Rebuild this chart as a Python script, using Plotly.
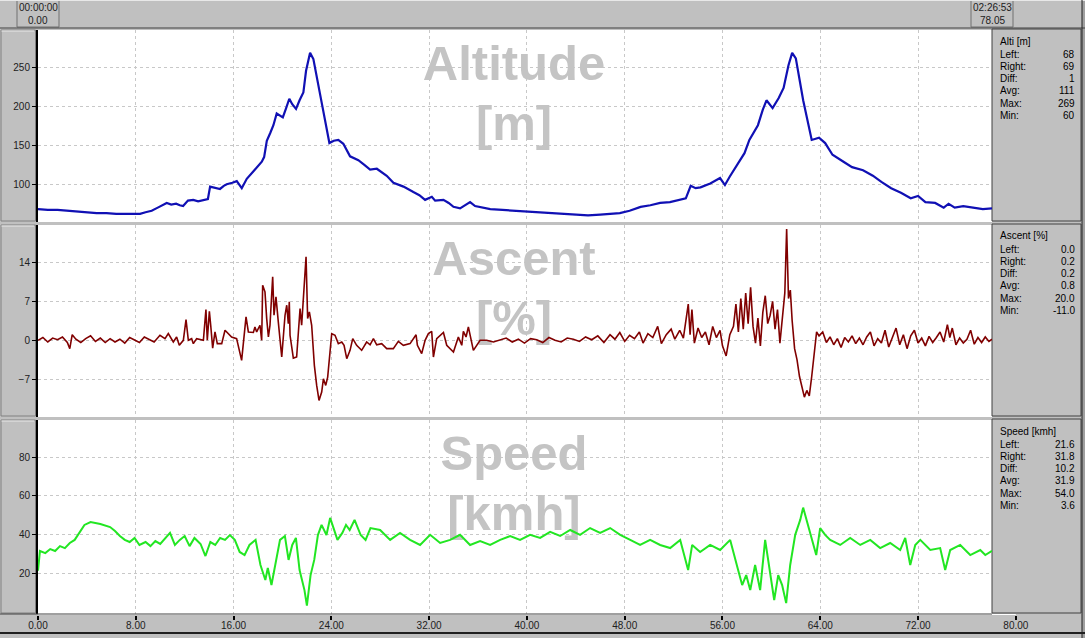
import plotly.graph_objects as go

W, H = 1085, 638

# ---------------- data ----------------
alt_km = [0.0, 0.8, 1.6, 2.4, 3.2, 4.0, 4.8, 5.6, 6.4, 7.2, 8.0, 8.35, 8.8, 9.3, 9.8, 10.2, 10.53, 10.9, 11.3, 11.6,
          11.87, 12.27, 12.7, 13.1, 13.5, 13.9, 14.08, 14.5, 14.89, 15.2, 15.44, 15.9, 16.26, 16.67, 17.08, 17.7,
          18.31, 18.5, 18.72, 19.0, 19.26, 19.53, 20.03, 20.3, 20.56, 20.8, 21.11, 21.4, 21.71, 21.93, 22.26, 22.53,
          22.9, 23.22, 23.84, 24.2, 24.57, 24.98, 25.53, 26.21, 26.7, 27.17, 27.72, 28.1, 28.53, 29.08, 29.9, 30.71,
          31.2, 31.67, 32.22, 32.49, 33.17, 33.6, 33.99, 34.53, 35.0, 35.35, 35.76, 36.17, 37.0, 38.0, 39.0, 40.0,
          41.0, 42.0, 43.0, 44.0, 45.0, 46.0, 46.8, 47.6, 48.4, 49.3, 50.1, 50.9, 51.7, 52.5, 53.0, 53.4, 53.8, 54.2,
          55.0, 55.8, 56.2, 56.6, 57.0, 57.4, 57.8, 58.2, 58.9, 59.3, 59.6, 60.1, 60.6, 61.0, 61.4, 61.7, 62.0, 62.3,
          62.6, 63.3, 63.9, 64.4, 65.0, 65.9, 66.6, 67.5, 68.3, 69.0, 69.8, 70.6, 71.4, 72.0, 72.6, 73.4, 74.1, 74.5,
          75.0, 75.7, 76.5, 77.3, 78.05]
alt_m = [68, 67, 67, 66, 65, 64, 63, 63, 62, 62, 62, 62, 64, 66, 70, 73, 76, 74, 75, 73,
         72, 79, 80, 78, 80, 81, 97, 95, 94, 98, 100, 102, 104, 95, 107, 118,
         129, 135, 156, 166, 176, 191, 186, 198, 210, 203, 197, 208, 218, 246, 269, 261,
         232, 204, 153, 156, 157, 152, 136, 131, 125, 119, 120, 116, 111, 102, 97, 90,
         86, 80, 84, 79, 80, 76, 71, 69, 73, 77, 72, 71, 68, 67, 66, 65,
         64, 63, 62, 61, 60, 61, 62, 63, 66, 71, 73, 76, 77, 80, 82, 98, 95, 96,
         101, 108, 99, 110, 120, 131, 140, 157, 176, 196, 208, 198, 211, 224, 253, 269, 262, 235,
         208, 157, 160, 153, 138, 129, 122, 118, 111, 103, 95, 89, 82, 85, 77, 76, 70, 75,
         70, 72, 70, 68, 69]

asc_km = [0.0, 0.4, 0.8, 1.2, 1.6, 2.0, 2.4, 2.6, 2.8, 3.1, 3.5, 3.9, 4.3, 4.7, 5.1, 5.5, 5.9, 6.3, 6.7, 7.1,
          7.5, 7.9, 8.3, 8.7, 9.1, 9.5,
          9.98, 10.39, 10.66, 11.07, 11.34, 11.56, 11.89, 12.11, 12.30, 12.57, 12.71, 12.98, 13.53, 13.74, 13.85,
          14.02, 14.13, 14.29, 14.48, 14.67, 15.03, 15.30, 15.84, 16.25, 16.66, 17.02, 17.21, 17.62, 17.75, 17.89,
          18.16, 18.30, 18.38, 18.57, 18.71, 18.85, 18.98, 19.20, 19.31, 19.47, 19.66, 19.94, 20.21, 20.35, 20.48,
          20.56, 20.62, 20.89, 21.16, 21.30, 21.44, 21.57, 21.76, 21.93, 22.06, 22.20, 22.39, 22.61, 22.80, 22.99,
          23.21, 23.35, 23.54, 23.70, 23.89, 24.03, 24.30, 24.57, 24.85, 25.04, 25.26, 25.53, 25.75, 26.07, 26.48,
          26.89, 27.17, 27.44, 27.71, 28.12, 28.53, 29.07, 29.48, 29.89, 30.44, 30.93, 31.04, 31.39, 31.67, 31.94,
          32.21, 32.35, 32.62, 33.17, 33.44, 33.99, 34.39, 34.67, 34.80, 35.02, 35.21, 35.48, 35.62, 36.17, 36.71,
          37.26, 37.80,
          38.3, 38.8, 39.3, 39.8, 40.3, 40.8, 41.3, 41.8, 42.3, 42.8, 43.3, 43.8, 44.3, 44.8, 45.3, 45.8, 46.3,
          46.8, 47.2, 47.6, 48.0, 48.4, 48.8, 49.2, 49.5, 49.9, 50.3, 50.7, 51.0, 51.4, 51.8, 52.1, 52.5, 52.8,
          53.0, 53.2, 53.35, 53.5, 53.7, 54.0, 54.3, 54.6, 54.9, 55.2, 55.5, 55.8, 56.0, 56.3, 56.6, 56.9, 57.1,
          57.3, 57.5, 57.7, 57.9, 58.1, 58.3, 58.5, 58.7, 58.9, 59.1, 59.3, 59.5, 59.7, 59.9, 60.1, 60.3, 60.5,
          60.7, 60.9, 61.1, 61.25, 61.4, 61.55, 61.7, 61.9, 62.1, 62.3, 62.5, 62.7, 62.9, 63.1, 63.3, 63.5, 63.7,
          63.9, 64.2, 64.5, 64.8, 65.1, 65.4, 65.7, 66.0, 66.3, 66.6, 66.9, 67.2, 67.5, 67.8, 68.1, 68.4, 68.7,
          69.0, 69.3, 69.6, 69.9, 70.2, 70.5, 70.8, 71.1, 71.4, 71.7, 72.0, 72.3, 72.6, 72.9, 73.2, 73.5, 73.8,
          74.1, 74.4, 74.6, 74.8, 75.1, 75.4, 75.7, 76.0, 76.3, 76.6, 76.9, 77.2, 77.5, 77.8, 78.05]
asc_pct = [0.0, 0.5, -0.3, 0.4, 0.1, 0.6, -0.4, -1.5, 1.0, 0.2, -0.4, 0.3, 0.8, -0.2, 0.4, -0.4, 0.3, -0.3, 0.2, -0.5,
           0.5, 0.1, -0.4, 0.6, 0.2, -0.3,
           0.9, 0.3, 1.2, -0.3, 0.6, -0.9, 0.0, 3.7, 0.0, 0.3, -0.6, 0.3, 0.0, 5.5, 0.0,
           5.2, 2.7, -1.4, 1.5, -0.6, -0.6, 1.8, 0.6, 0.3, -3.6, 4.2, 1.5, 1.4, 2.4, 1.5,
           2.7, 0.0, 9.9, 8.7, 3.9, 0.6, 2.7, 11.4, 4.5, 7.8, 3.3, -3.0, 4.5, 6.3, 3.0,
           6.9, 0.9, -3.2, -3.0, 1.5, 5.7, 2.7, 8.7, 15.0, 3.9, 5.1, 2.7, -4.5, -8.1, -10.8,
           -9.3, -6.9, -8.1, -6.6, -2.1, 1.2, 0.9, -0.6, -0.3, -0.9, -3.3, -1.8, 0.3, -0.9, -1.8,
           -0.3, -0.8, 0.3, -0.8, -0.6, -1.5, -1.5, -0.2, -0.9, -0.6, 1.0, -0.9, -2.4, 0.0, 1.2,
           1.6, -3.0, 0.3, 1.4, -0.9, -2.1, 0.6, -0.9, 1.6, 0.6, 2.4, 0.0, -1.8, 0.0, 0.0,
           -0.3, 0.0,
           0.4, -0.3, 0.2, -0.5, 0.3, 0.1, -0.4, 0.5, 0.0, -0.3, 0.4, 0.2, -0.2, 0.6, 0.1, 0.8, -0.4,
           1.0, 0.2, 1.4, -0.2, 0.9, 0.3, 1.5, -0.5, 1.2, 0.5, 2.5, -0.6, 1.0, 2.0, 0.2, 1.8, 0.4,
           3.5, 6.5, 1.0, 5.5, -0.5, 2.2, 0.5, 1.5, -0.8, 2.5, 0.5, 1.8, -1.0, -2.8, 1.0, 2.5, 6.5,
           1.5, 7.5, 2.0, 8.5, 3.0, 9.5, 2.5, -0.5, 4.0, -1.0, 5.0, 8.0, 3.0, 4.5, 7.0, 2.0, 5.5,
           -0.5, 4.0, 8.5, 20.0, 7.5, 9.0, 3.5, -1.5, -3.5, -6.5, -8.5, -10.2, -9.0, -10.0, -6.5, -2.5, 1.5,
           0.8, 1.5, -0.4, 0.6, -0.8, 0.3, -1.3, 0.5, -0.3, 0.8, -0.6, 0.4, -0.8, 0.6, 1.5, -1.0, 0.3,
           -0.5, 1.8, -1.2, 0.5, 2.2, -0.8, 1.0, -1.5, 0.8, 1.8, -0.5, 0.4, -1.0, 0.7, -0.4, 0.5, 1.5,
           -0.3, 2.8, 0.5, 2.2, -0.8, 0.4, -0.5, 0.2, 1.8, -0.7, 0.5, -0.4, 0.6, -0.2, 0.2]

spd_km = [0.0, 0.16, 0.6, 1.0, 1.4, 1.8, 2.2, 2.6, 3.0, 3.4, 3.8, 4.3, 4.7, 5.1, 5.9, 6.3, 6.7, 7.1, 7.5, 7.9,
          8.3, 8.8, 9.2, 9.6, 10.0, 10.4, 10.8, 11.2, 11.6, 12.0, 12.4, 12.8, 13.3, 13.7, 14.1, 14.5, 14.9, 15.3,
          15.7, 16.1, 16.5, 16.9, 17.3, 17.8, 18.2, 18.6, 18.8, 19.1, 19.5, 19.8, 20.2, 20.5, 20.8, 21.1, 21.4,
          21.8, 22.0, 22.3, 22.6, 22.9, 23.2, 23.6, 23.9, 24.2, 24.5, 24.9, 25.2, 25.5, 25.9, 26.4, 26.8, 27.2,
          27.99, 28.81, 29.62, 30.44, 31.26, 32.08, 32.90, 33.72, 34.53, 35.35, 36.17, 36.99, 37.81, 38.63, 39.44,
          40.26, 41.08, 41.90, 42.72, 43.54, 44.35, 45.17, 45.99, 46.81, 47.63, 48.45, 49.26, 50.08, 50.90, 51.72,
          52.54, 53.19, 53.52, 54.17, 54.99, 55.81, 56.63, 57.28, 57.61, 57.94, 58.27, 58.67, 59.08, 59.49, 59.90,
          60.23, 60.56, 60.88, 61.21, 61.54, 61.95, 62.36, 62.60, 63.01, 63.34, 63.67, 63.99, 64.40, 64.81, 65.63,
          66.45, 67.27, 68.09, 68.90, 69.72, 70.54, 70.95, 71.36, 71.77, 72.18, 73.00, 73.81, 74.22, 74.63, 75.45,
          76.27, 77.09, 77.50, 78.05]
spd_kmh = [21.6, 31.7, 30.6, 32.7, 31.7, 34.2, 33.2, 35.8, 37.4, 41.5, 45.1, 46.6, 46.1, 45.6, 44.0, 42.0, 39.4,
           37.4, 36.3, 38.4, 34.8, 36.3, 34.2, 36.8, 35.3, 38.4, 41.0, 34.8, 37.4, 39.4, 34.2, 38.4, 35.3, 29.1,
           36.3, 34.8, 38.4, 37.4, 39.9, 37.4, 31.2, 29.6, 34.8, 37.4, 24.5, 16.8, 23.0, 14.2, 27.1, 37.4, 39.4,
           27.1, 34.8, 38.4, 21.9, 11.6, 3.6, 19.3, 27.1, 39.9, 45.1, 39.9, 48.7, 43.5, 37.4, 41.0, 45.1, 42.5,
           47.7, 39.9, 37.4, 43.5,
           42.5, 37.4, 41.0, 37.4, 34.8, 40.0, 35.8, 37.4, 40.0, 34.8, 36.8, 34.8, 37.4, 39.4, 37.4,
           40.0, 38.4, 41.5, 39.4, 42.5, 40.0, 43.5, 41.0, 43.5, 40.0, 37.4, 34.8, 37.4, 34.8, 33.2,
           37.4, 21.9, 34.8, 31.2, 34.8, 32.2, 37.4, 21.9, 14.2, 19.3, 11.6, 24.5, 11.6, 37.4, 19.3,
           6.5, 19.3, 14.2, 4.9, 24.5, 40.0, 47.7, 54.0, 45.1, 37.4, 29.6, 43.5, 40.0, 37.4, 34.8,
           38.4, 34.8, 37.4, 33.2, 35.8, 32.2, 38.4, 24.5, 34.8, 37.4, 32.2, 33.2, 21.9, 32.2, 34.8,
           29.6, 32.2, 29.6, 31.8]

alt_ticks = [100, 150, 200, 250]
asc_ticks = [-7, 0, 7, 14]
spd_ticks = [20, 40, 60, 80]
ruler_ticks = [0, 8, 16, 24, 32, 40, 48, 56, 64, 72, 80]

stat_labels = ["Left:", "Right:", "Diff:", "Avg:", "Max:", "Min:"]
alt_stats = ["68", "69", "1", "111", "269", "60"]
asc_stats = ["0.0", "0.2", "0.2", "0.8", "20.0", "-11.0"]
spd_stats = ["21.6", "31.8", "10.2", "31.9", "54.0", "3.6"]
stat_titles = ["Alti [m]", "Ascent [%]", "Speed [kmh]"]
watermarks = [("Altitude", "[m]"), ("Ascent", "[%]"), ("Speed", "[kmh]")]
time_start = ("00:00:00", "0.00")
time_end = ("02:26:53", "78.05")

# ---------------- layout helpers ----------------
FONT = "Liberation Sans, Arial, sans-serif"
GRAY = "#c0c0c0"


def px(x):
    return x / W


def py(y):
    return 1 - y / H


X_MAX = 78.05
PLOT_L, PLOT_R = 38, 992
tops = [30, 225, 420]
bots = [222, 417, 614]
ranges = [[51.5, 298.4], [-13.77, 20.7], [-0.7, 99.05]]
colors = ["#1010b4", "#800000", "#22e622"]
widths = [2.2, 1.6, 2.0]
tickvals = [alt_ticks, asc_ticks, spd_ticks]
series = [(alt_km, alt_m), (asc_km, asc_pct), (spd_km, spd_kmh)]
stats = [alt_stats, asc_stats, spd_stats]
# watermark vertical centres (pixels below the panel top)
wm_off = (38, 98)

fig = go.Figure()
shapes = []
annotations = []

for i in range(3):
    n = "" if i == 0 else str(i + 1)
    lo, hi = ranges[i]
    ph = bots[i] - tops[i]
    # watermark text (drawn beneath the line)
    for word, off in zip(watermarks[i], wm_off):
        yv = hi - off / ph * (hi - lo)
        fig.add_trace(go.Scatter(
            x=[X_MAX * (514 - PLOT_L) / (PLOT_R - PLOT_L)], y=[yv], mode="text", text=[word],
            textfont=dict(size=49, color="#c4c4c4", family=FONT, weight="bold"),
            hoverinfo="skip", showlegend=False, xaxis="x" + n, yaxis="y" + n))
    xs, ys = series[i]
    fig.add_trace(go.Scatter(
        x=xs, y=ys, mode="lines", line=dict(color=colors[i], width=widths[i]),
        hoverinfo="skip", showlegend=False, xaxis="x" + n, yaxis="y" + n))

    fig.layout["xaxis" + n] = dict(
        domain=[px(PLOT_L), px(PLOT_R)], range=[0, X_MAX], anchor="y" + n,
        tick0=0, dtick=8, showticklabels=False, ticks="",
        showgrid=True, gridcolor="#c8c8c8", griddash="3px,3px", gridwidth=1,
        zeroline=False, showline=False, automargin=False, fixedrange=True)
    fig.layout["yaxis" + n] = dict(
        domain=[py(bots[i]), py(tops[i])], range=ranges[i], anchor="x" + n,
        tickvals=tickvals[i], ticks="outside", ticklen=4, tickcolor="#000", tickwidth=1,
        tickfont=dict(size=10, color="#202020", family=FONT),
        showgrid=True, gridcolor="#c8c8c8", griddash="3px,3px", gridwidth=1,
        zeroline=False, showline=True, linecolor="#000", linewidth=2,
        automargin=False, fixedrange=True)

    # left gray column box
    shapes.append(dict(type="rect", xref="paper", yref="paper",
                       x0=px(1), x1=px(35.5), y0=py(bots[i] - 1), y1=py(tops[i]),
                       line=dict(color="#808080", width=1), fillcolor=GRAY, layer="below"))
    shapes.append(dict(type="line", xref="paper", yref="paper",
                       x0=px(1.5), x1=px(34), y0=py(tops[i] + 1), y1=py(tops[i] + 1),
                       line=dict(color="#e8e8e8", width=1)))
    # right stats box
    shapes.append(dict(type="rect", xref="paper", yref="paper",
                       x0=px(992), x1=px(1081), y0=py(bots[i] - 1), y1=py(tops[i] - 1),
                       line=dict(color="#404040", width=1), fillcolor=GRAY, layer="below"))
    annotations.append(dict(xref="paper", yref="paper", x=px(998), y=py(tops[i] + 11),
                            xanchor="left", yanchor="middle", showarrow=False,
                            text=stat_titles[i], font=dict(size=10, color="#000", family=FONT)))
    for k, (lab, val) in enumerate(zip(stat_labels, stats[i])):
        yy = tops[i] + 24 + k * 12.3
        annotations.append(dict(xref="paper", yref="paper", x=px(998), y=py(yy),
                                xanchor="left", yanchor="middle", showarrow=False,
                                text=lab, font=dict(size=10, color="#000", family=FONT)))
        annotations.append(dict(xref="paper", yref="paper", x=px(1077), y=py(yy),
                                xanchor="right", yanchor="middle", showarrow=False,
                                text=val, font=dict(size=10, color="#000", family=FONT)))

# bottom ruler axis
fig.add_trace(go.Scatter(x=[0, 80], y=[0, 0], mode="markers", marker=dict(opacity=0),
                         hoverinfo="skip", showlegend=False, xaxis="x4", yaxis="y4"))
fig.layout["xaxis4"] = dict(
    domain=[px(PLOT_L), px(PLOT_L + 80 * (PLOT_R - PLOT_L) / X_MAX)], range=[0, 80], anchor="y4",
    tickvals=ruler_ticks, tickformat=".2f", ticks="outside", ticklen=4, tickcolor="#000", tickwidth=2,
    tickfont=dict(size=10, color="#202020", family=FONT), showgrid=False, zeroline=False,
    showline=False, automargin=False, fixedrange=True, ticklabelstandoff=-3)
fig.layout["yaxis4"] = dict(domain=[py(615), py(614)], range=[0, 1], visible=False, anchor="x4",
                            fixedrange=True)

# top bar and frame decorations
shapes += [
    dict(type="line", xref="paper", yref="paper", x0=0, x1=1, y0=py(0.5), y1=py(0.5),
         line=dict(color="#e8e8e8", width=1)),
    dict(type="line", xref="paper", yref="paper", x0=0, x1=1, y0=py(28), y1=py(28),
         line=dict(color="#404040", width=1)),
    dict(type="rect", xref="paper", yref="paper", x0=px(17), x1=px(59), y0=py(27), y1=py(0.5),
         line=dict(color="#707070", width=1), fillcolor=GRAY, layer="below"),
    dict(type="rect", xref="paper", yref="paper", x0=px(971), x1=px(1013), y0=py(27), y1=py(0.5),
         line=dict(color="#707070", width=1), fillcolor=GRAY, layer="below"),
    dict(type="rect", xref="paper", yref="paper", x0=px(1082), x1=1, y0=0, y1=1,
         line=dict(width=0), fillcolor="#a0a0a0", layer="below"),
    dict(type="line", xref="paper", yref="paper", x0=px(1082), x1=px(1082), y0=py(638), y1=py(0),
         line=dict(color="#202020", width=1)),
    dict(type="line", xref="paper", yref="paper", x0=0, x1=1, y0=py(633), y1=py(633),
         line=dict(color="#202020", width=2)),
    dict(type="line", xref="paper", yref="paper", x0=0, x1=px(992), y0=py(614), y1=py(614),
         line=dict(color="#404040", width=1)),
]
for (t1, t2), cx in [(time_start, 38), (time_end, 992)]:
    annotations.append(dict(xref="paper", yref="paper", x=px(cx), y=py(8), xanchor="center",
                            yanchor="middle", showarrow=False, text=t1,
                            font=dict(size=10, color="#202020", family=FONT)))
    annotations.append(dict(xref="paper", yref="paper", x=px(cx), y=py(20.5), xanchor="center",
                            yanchor="middle", showarrow=False, text=t2,
                            font=dict(size=10, color="#202020", family=FONT)))

fig.update_layout(
    width=W, height=H, autosize=False,
    margin=dict(l=0, r=0, t=0, b=0, pad=0),
    paper_bgcolor=GRAY, plot_bgcolor="#ffffff",
    shapes=shapes, annotations=annotations, showlegend=False,
    font=dict(family=FONT, size=10, color="#202020"),
)

fig.write_html(
    "out.html",
    config={"displayModeBar": False, "staticPlot": True},
    post_script="document.body.style.margin='0px';document.body.style.padding='0px';"
                "document.body.style.overflow='hidden';",
)
